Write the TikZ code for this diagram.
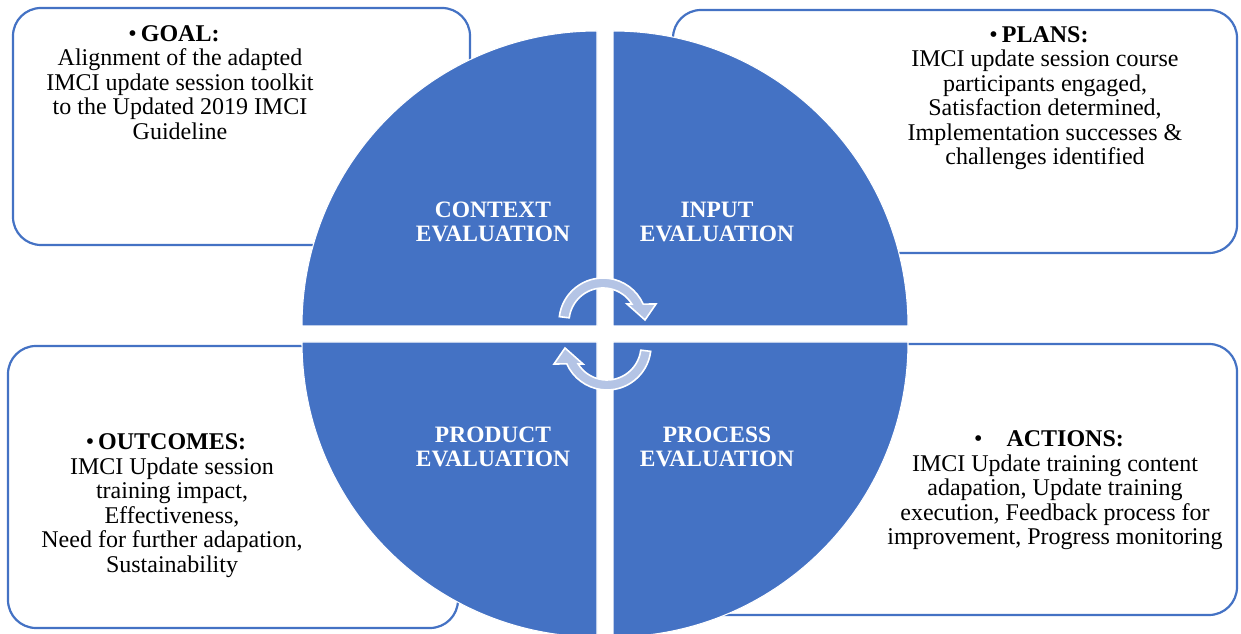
\documentclass[tikz,border=0pt]{standalone}
\usepackage{fontspec}
\setmainfont{Liberation Serif}
\definecolor{accent}{HTML}{4472C4}
\definecolor{arrowfill}{RGB}{180,196,229}
\begin{document}
\begin{tikzpicture}[x=0.75pt,y=0.75pt,
  panel/.style={draw=accent, line width=1.65pt, rounded corners=21pt, fill=white},
  quarter/.style={fill=accent, draw=white, line width=0.8pt},
  boxtext/.style={align=center, font=\fontsize{18}{18.4}\selectfont, inner sep=0pt, anchor=base},
  quadlabel/.style={align=center, text=white, font=\fontsize{17.6}{18.3}\selectfont\bfseries, inner sep=0pt, anchor=base},
  cycarrow/.style={fill=arrowfill, draw=white, line width=1.2pt, line join=miter}]
\useasboundingbox (0,0) rectangle (1241,634);
\clip (0,0) rectangle (1241,634);

% corner panels
\draw[panel] (13,389) rectangle (470,626);
\draw[panel] (673,381) rectangle (1237,624);
\draw[panel] (8,6) rectangle (458,288);
\draw[panel] (640,19) rectangle (1237,290);

% panel texts (each node is placed by the baseline of its last line)
\node[boxtext] (goal) at (180,494.7)
  {\textbullet\,\textbf{GOAL:}\kern9pt\\
   Alignment of the adapted\\
   IMCI update session toolkit\\
   to the Updated 2019 IMCI\\
   Guideline};
\node[boxtext] (plans) at (1045,469)
  {\textbullet\,\textbf{PLANS:}\kern9pt\\
   IMCI update session course\\
   participants engaged,\\
   Satisfaction determined,\\
   Implementation successes \&\\
   challenges identified};
\node[boxtext] (outcomes) at (172,61.5)
  {\textbullet\,\textbf{OUTCOMES:}\kern9pt\\
   IMCI Update session\\
   training impact,\\
   Effectiveness,\\
   Need for further adapation,\\
   Sustainability};
\node[boxtext] (actions) at (1055,89)
  {\textbullet\hspace{18pt}\textbf{ACTIONS:}\kern9pt\\
   IMCI Update training content\\
   adapation, Update training\\
   execution, Feedback process for\\
   improvement, Progress monitoring};

% the four quarters of the disc
\path[quarter] (597,308) -- ++(-295,0) arc[start angle=180, end angle=90, radius=295] -- cycle;
\path[quarter] (613,308) -- ++(0,295) arc[start angle=90, end angle=0, radius=295] -- cycle;
\path[quarter] (597,292) -- ++(-295,0) arc[start angle=180, end angle=270, radius=295] -- cycle;
\path[quarter] (613,292) -- ++(0,-295) arc[start angle=270, end angle=360, radius=295] -- cycle;

\node[quadlabel] (context) at (493,392.3) {CONTEXT\\EVALUATION};
\node[quadlabel] (input) at (717,392.3) {INPUT\\EVALUATION};
\node[quadlabel] (product) at (493,167.3) {PRODUCT\\EVALUATION};
\node[quadlabel] (process) at (717,167.3) {PROCESS\\EVALUATION};

% circular arrows in the middle
\begin{scope}[shift={(603,312)}]
  \path[cycarrow] (173:44) arc[start angle=173, end angle=24, radius=44]
    -- (53,18) -- (42,2) -- (24,18) -- (32:34)
    arc[start angle=32, end angle=173, radius=34] -- cycle;
\end{scope}
\begin{scope}[shift={(607,288)}, rotate=180]
  \path[cycarrow] (173:44) arc[start angle=173, end angle=24, radius=44]
    -- (53,18) -- (42,2) -- (24,18) -- (32:34)
    arc[start angle=32, end angle=173, radius=34] -- cycle;
\end{scope}
\end{tikzpicture}
\end{document}
